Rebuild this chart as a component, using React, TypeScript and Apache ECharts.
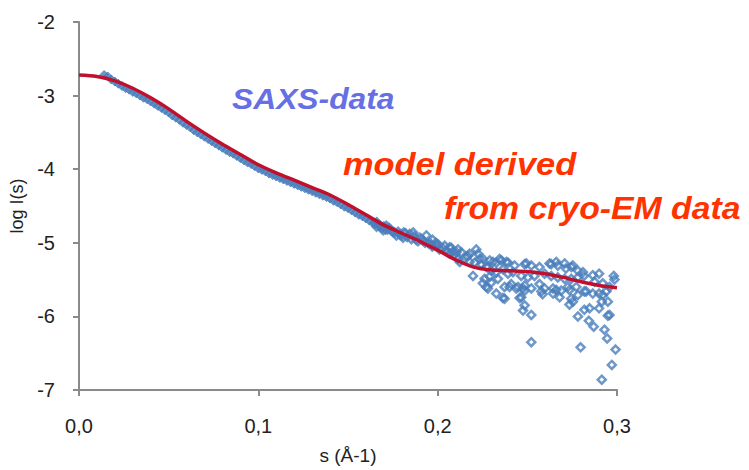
import React, { useEffect, useRef } from "react";
import * as echarts from "echarts";

const xTicks = [0, 0.1, 0.2, 0.3];
const yTicks = [-7, -6, -5, -4, -3, -2];

const modelS = [0, 0.01, 0.02, 0.03, 0.04, 0.05, 0.06, 0.07, 0.08, 0.09, 0.1, 0.11, 0.12, 0.13, 0.14, 0.15, 0.16, 0.17, 0.18, 0.19, 0.2, 0.21, 0.22, 0.23, 0.24, 0.25, 0.26, 0.27, 0.28, 0.29, 0.3];
const modelV = [-2.72, -2.74, -2.8, -2.9, -3.03, -3.18, -3.35, -3.51, -3.66, -3.8, -3.94, -4.05, -4.15, -4.25, -4.35, -4.48, -4.62, -4.76, -4.87, -4.98, -5.1, -5.23, -5.33, -5.37, -5.38, -5.39, -5.42, -5.47, -5.53, -5.58, -5.61];

// dense low-angle part of the SAXS curve
const saxsLowS = [0.014, 0.016, 0.018, 0.02, 0.022, 0.024, 0.026, 0.028, 0.03, 0.032, 0.034, 0.036, 0.038, 0.04, 0.042, 0.044, 0.046, 0.048, 0.05, 0.052, 0.054, 0.056, 0.058, 0.06, 0.062, 0.064, 0.066, 0.068, 0.07, 0.072, 0.074, 0.076, 0.078, 0.08, 0.082, 0.084, 0.086, 0.088, 0.09, 0.092, 0.094, 0.096, 0.098, 0.1, 0.102, 0.104, 0.106, 0.108, 0.11, 0.112, 0.114, 0.116, 0.118, 0.12, 0.122, 0.124, 0.126, 0.128, 0.13, 0.132, 0.134, 0.136, 0.138, 0.14, 0.142, 0.144, 0.146, 0.148, 0.15, 0.152, 0.154, 0.156, 0.158, 0.16, 0.162, 0.164];
const saxsLowV = [-2.72, -2.74, -2.78, -2.81, -2.84, -2.87, -2.9, -2.92, -2.95, -2.97, -3.0, -3.03, -3.05, -3.08, -3.11, -3.14, -3.17, -3.2, -3.23, -3.27, -3.3, -3.33, -3.37, -3.4, -3.43, -3.47, -3.5, -3.53, -3.56, -3.59, -3.62, -3.65, -3.68, -3.71, -3.74, -3.77, -3.79, -3.82, -3.85, -3.88, -3.91, -3.93, -3.96, -3.99, -4.01, -4.03, -4.06, -4.08, -4.1, -4.12, -4.14, -4.16, -4.18, -4.2, -4.22, -4.24, -4.26, -4.28, -4.3, -4.32, -4.34, -4.36, -4.38, -4.4, -4.43, -4.45, -4.48, -4.51, -4.53, -4.56, -4.59, -4.62, -4.64, -4.67, -4.7, -4.73];

// scattered high-angle part
const saxsHighS = [0.165, 0.1659, 0.166, 0.167, 0.168, 0.169, 0.1696, 0.17, 0.171, 0.1714, 0.172, 0.173, 0.174, 0.175, 0.176, 0.177, 0.178, 0.179, 0.18, 0.1807, 0.181, 0.182, 0.183, 0.1844, 0.1853, 0.1863, 0.187, 0.188, 0.189, 0.19, 0.191, 0.1918, 0.193, 0.1937, 0.195, 0.1965, 0.197, 0.1972, 0.199, 0.1993, 0.2002, 0.201, 0.203, 0.2039, 0.205, 0.2067, 0.2067, 0.2076, 0.2085, 0.209, 0.2104, 0.2113, 0.2113, 0.2132, 0.216, 0.2169, 0.2178, 0.2178, 0.2123, 0.2197, 0.2206, 0.2215, 0.2225, 0.2234, 0.2243, 0.2252, 0.2253, 0.2262, 0.2271, 0.2271, 0.228, 0.228, 0.229, 0.229, 0.2299, 0.2299, 0.2308, 0.2327, 0.2327, 0.2327, 0.2336, 0.2345, 0.2355, 0.2364, 0.2364, 0.2373, 0.2373, 0.2383, 0.2392, 0.2392, 0.2401, 0.241, 0.242, 0.2429, 0.2438, 0.2448, 0.2457, 0.2466, 0.2466, 0.2476, 0.2475, 0.2485, 0.2485, 0.2485, 0.2485, 0.2494, 0.2503, 0.2522, 0.2522, 0.2522, 0.2522, 0.254, 0.2568, 0.2568, 0.2578, 0.2585, 0.2596, 0.2596, 0.2624, 0.2633, 0.2633, 0.2643, 0.2643, 0.2661, 0.2661, 0.267, 0.267, 0.268, 0.2689, 0.2708, 0.2715, 0.2708, 0.2726, 0.2735, 0.2735, 0.2745, 0.2745, 0.2745, 0.2754, 0.2754, 0.2773, 0.2782, 0.2782, 0.2782, 0.2782, 0.2797, 0.281, 0.2815, 0.2818, 0.2818, 0.2828, 0.2843, 0.2847, 0.2865, 0.2865, 0.287, 0.2875, 0.29, 0.29, 0.29, 0.2915, 0.2915, 0.292, 0.2921, 0.293, 0.294, 0.2945, 0.2949, 0.2949, 0.2958, 0.2958, 0.2971, 0.2982, 0.2986, 0.2992];
const saxsHighV = [-4.74, -4.78, -4.72, -4.76, -4.77, -4.8, -4.83, -4.78, -4.82, -4.77, -4.82, -4.8, -4.83, -4.85, -4.86, -4.9, -4.85, -4.89, -4.9, -4.93, -4.86, -4.87, -4.92, -4.88, -4.95, -4.86, -4.91, -4.96, -4.98, -4.93, -4.95, -4.97, -5.0, -4.9, -5.01, -5.02, -5.05, -4.96, -5.0, -5.04, -5.02, -5.09, -5.08, -5.04, -5.11, -5.06, -5.15, -5.07, -5.12, -5.17, -5.13, -5.09, -5.22, -5.13, -5.19, -5.18, -5.15, -5.26, -5.26, -5.45, -5.27, -5.09, -5.15, -5.22, -5.29, -5.55, -5.22, -5.49, -5.33, -5.6, -5.62, -5.33, -5.46, -5.24, -5.38, -5.54, -5.26, -5.27, -5.4, -5.69, -5.49, -5.22, -5.24, -5.36, -5.75, -5.6, -5.76, -5.26, -5.27, -5.42, -5.6, -5.56, -5.4, -5.31, -5.62, -5.6, -5.75, -5.45, -5.74, -5.92, -5.62, -5.29, -5.58, -5.65, -5.85, -5.28, -5.47, -5.31, -5.62, -5.98, -6.35, -5.45, -5.33, -5.56, -5.66, -5.7, -5.42, -5.62, -5.28, -5.29, -5.45, -5.62, -5.69, -5.26, -5.64, -5.31, -5.47, -5.74, -5.65, -5.28, -5.35, -5.49, -5.6, -5.64, -5.84, -5.33, -5.49, -5.76, -5.31, -5.8, -5.6, -5.38, -5.47, -5.71, -6.0, -6.42, -5.4, -5.45, -5.66, -5.91, -5.66, -6.06, -5.89, -5.44, -5.69, -6.14, -5.53, -5.42, -5.69, -5.89, -5.8, -6.86, -5.71, -5.55, -6.18, -5.66, -6.3, -5.8, -5.99, -5.6, -5.98, -6.66, -5.45, -5.5, -6.45];

const App: React.FC = () => {
  const ref = useRef<HTMLDivElement>(null);
  useEffect(() => {
    if (!ref.current) return;
    const chart = echarts.init(ref.current, undefined, { renderer: "svg" });
    const saxsLow = saxsLowS.map((s, i) => [s, saxsLowV[i]]);
    const saxsHigh = saxsHighS.map((s, i) => [s, saxsHighV[i]]);
    const model = modelS.map((s, i) => [s, modelV[i]]);
    const font = "'Liberation Sans', Arial, sans-serif";
    const blue = "#4a7ebb";
    chart.setOption({
      animation: false,
      backgroundColor: "#ffffff",
      grid: { left: 79, top: 22, width: 538, height: 372 },
      xAxis: {
        type: "value",
        min: xTicks[0],
        max: xTicks[xTicks.length - 1],
        interval: 0.1,
        name: "s (Å-1)",
        nameLocation: "middle",
        nameGap: 56,
        nameTextStyle: { fontFamily: font, fontSize: 19, color: "#222" },
        axisLine: { lineStyle: { color: "#8a8a8a", width: 2 } },
        axisTick: { show: true, length: 6, lineStyle: { color: "#8a8a8a", width: 2 } },
        axisLabel: {
          margin: 26,
          fontFamily: font,
          fontSize: 20,
          color: "#222",
          formatter: (v: number) => v.toFixed(1).replace(".", ","),
        },
        splitLine: { show: false },
      },
      yAxis: {
        type: "value",
        min: yTicks[0],
        max: yTicks[yTicks.length - 1],
        interval: 1,
        name: "log I(s)",
        nameLocation: "middle",
        nameGap: 53,
        nameTextStyle: { fontFamily: font, fontSize: 18, color: "#222" },
        axisLine: { show: true, lineStyle: { color: "#8a8a8a", width: 2 } },
        axisTick: { show: true, length: 6, lineStyle: { color: "#8a8a8a", width: 2 } },
        axisLabel: { margin: 24, fontFamily: font, fontSize: 20, color: "#222" },
        splitLine: { show: false },
      },
      series: [
        {
          type: "scatter",
          data: saxsLow,
          symbol: "diamond",
          symbolSize: 9,
          itemStyle: { color: blue, borderColor: blue, borderWidth: 1 },
          z: 2,
        },
        {
          type: "scatter",
          data: saxsHigh,
          symbol: "diamond",
          symbolSize: 8,
          itemStyle: { color: "rgba(255,255,255,0)", borderColor: blue, borderWidth: 2.5 },
          z: 2,
        },
        {
          type: "line",
          data: model,
          smooth: 0.3,
          showSymbol: false,
          symbol: "none",
          lineStyle: { color: "#c0102e", width: 3.5 },
          z: 3,
        },
      ],
      graphic: [
        {
          type: "text",
          x: 232,
          y: 84,
          scaleX: 1.06,
          style: { text: "SAXS-data", font: `italic bold 30px ${font}`, fill: "#6670e4" },
        },
        {
          type: "text",
          x: 343,
          y: 149,
          scaleX: 1.11,
          style: { text: "model derived", font: `italic bold 31px ${font}`, fill: "#ff3300" },
        },
        {
          type: "text",
          x: 444,
          y: 193,
          scaleX: 1.09,
          style: { text: "from cryo-EM data", font: `italic bold 31px ${font}`, fill: "#ff3300" },
        },
      ],
    });
    return () => chart.dispose();
  }, []);
  return <div ref={ref} style={{ position: "fixed", left: 0, top: 0, width: 749, height: 470 }} />;
};

export default App;
